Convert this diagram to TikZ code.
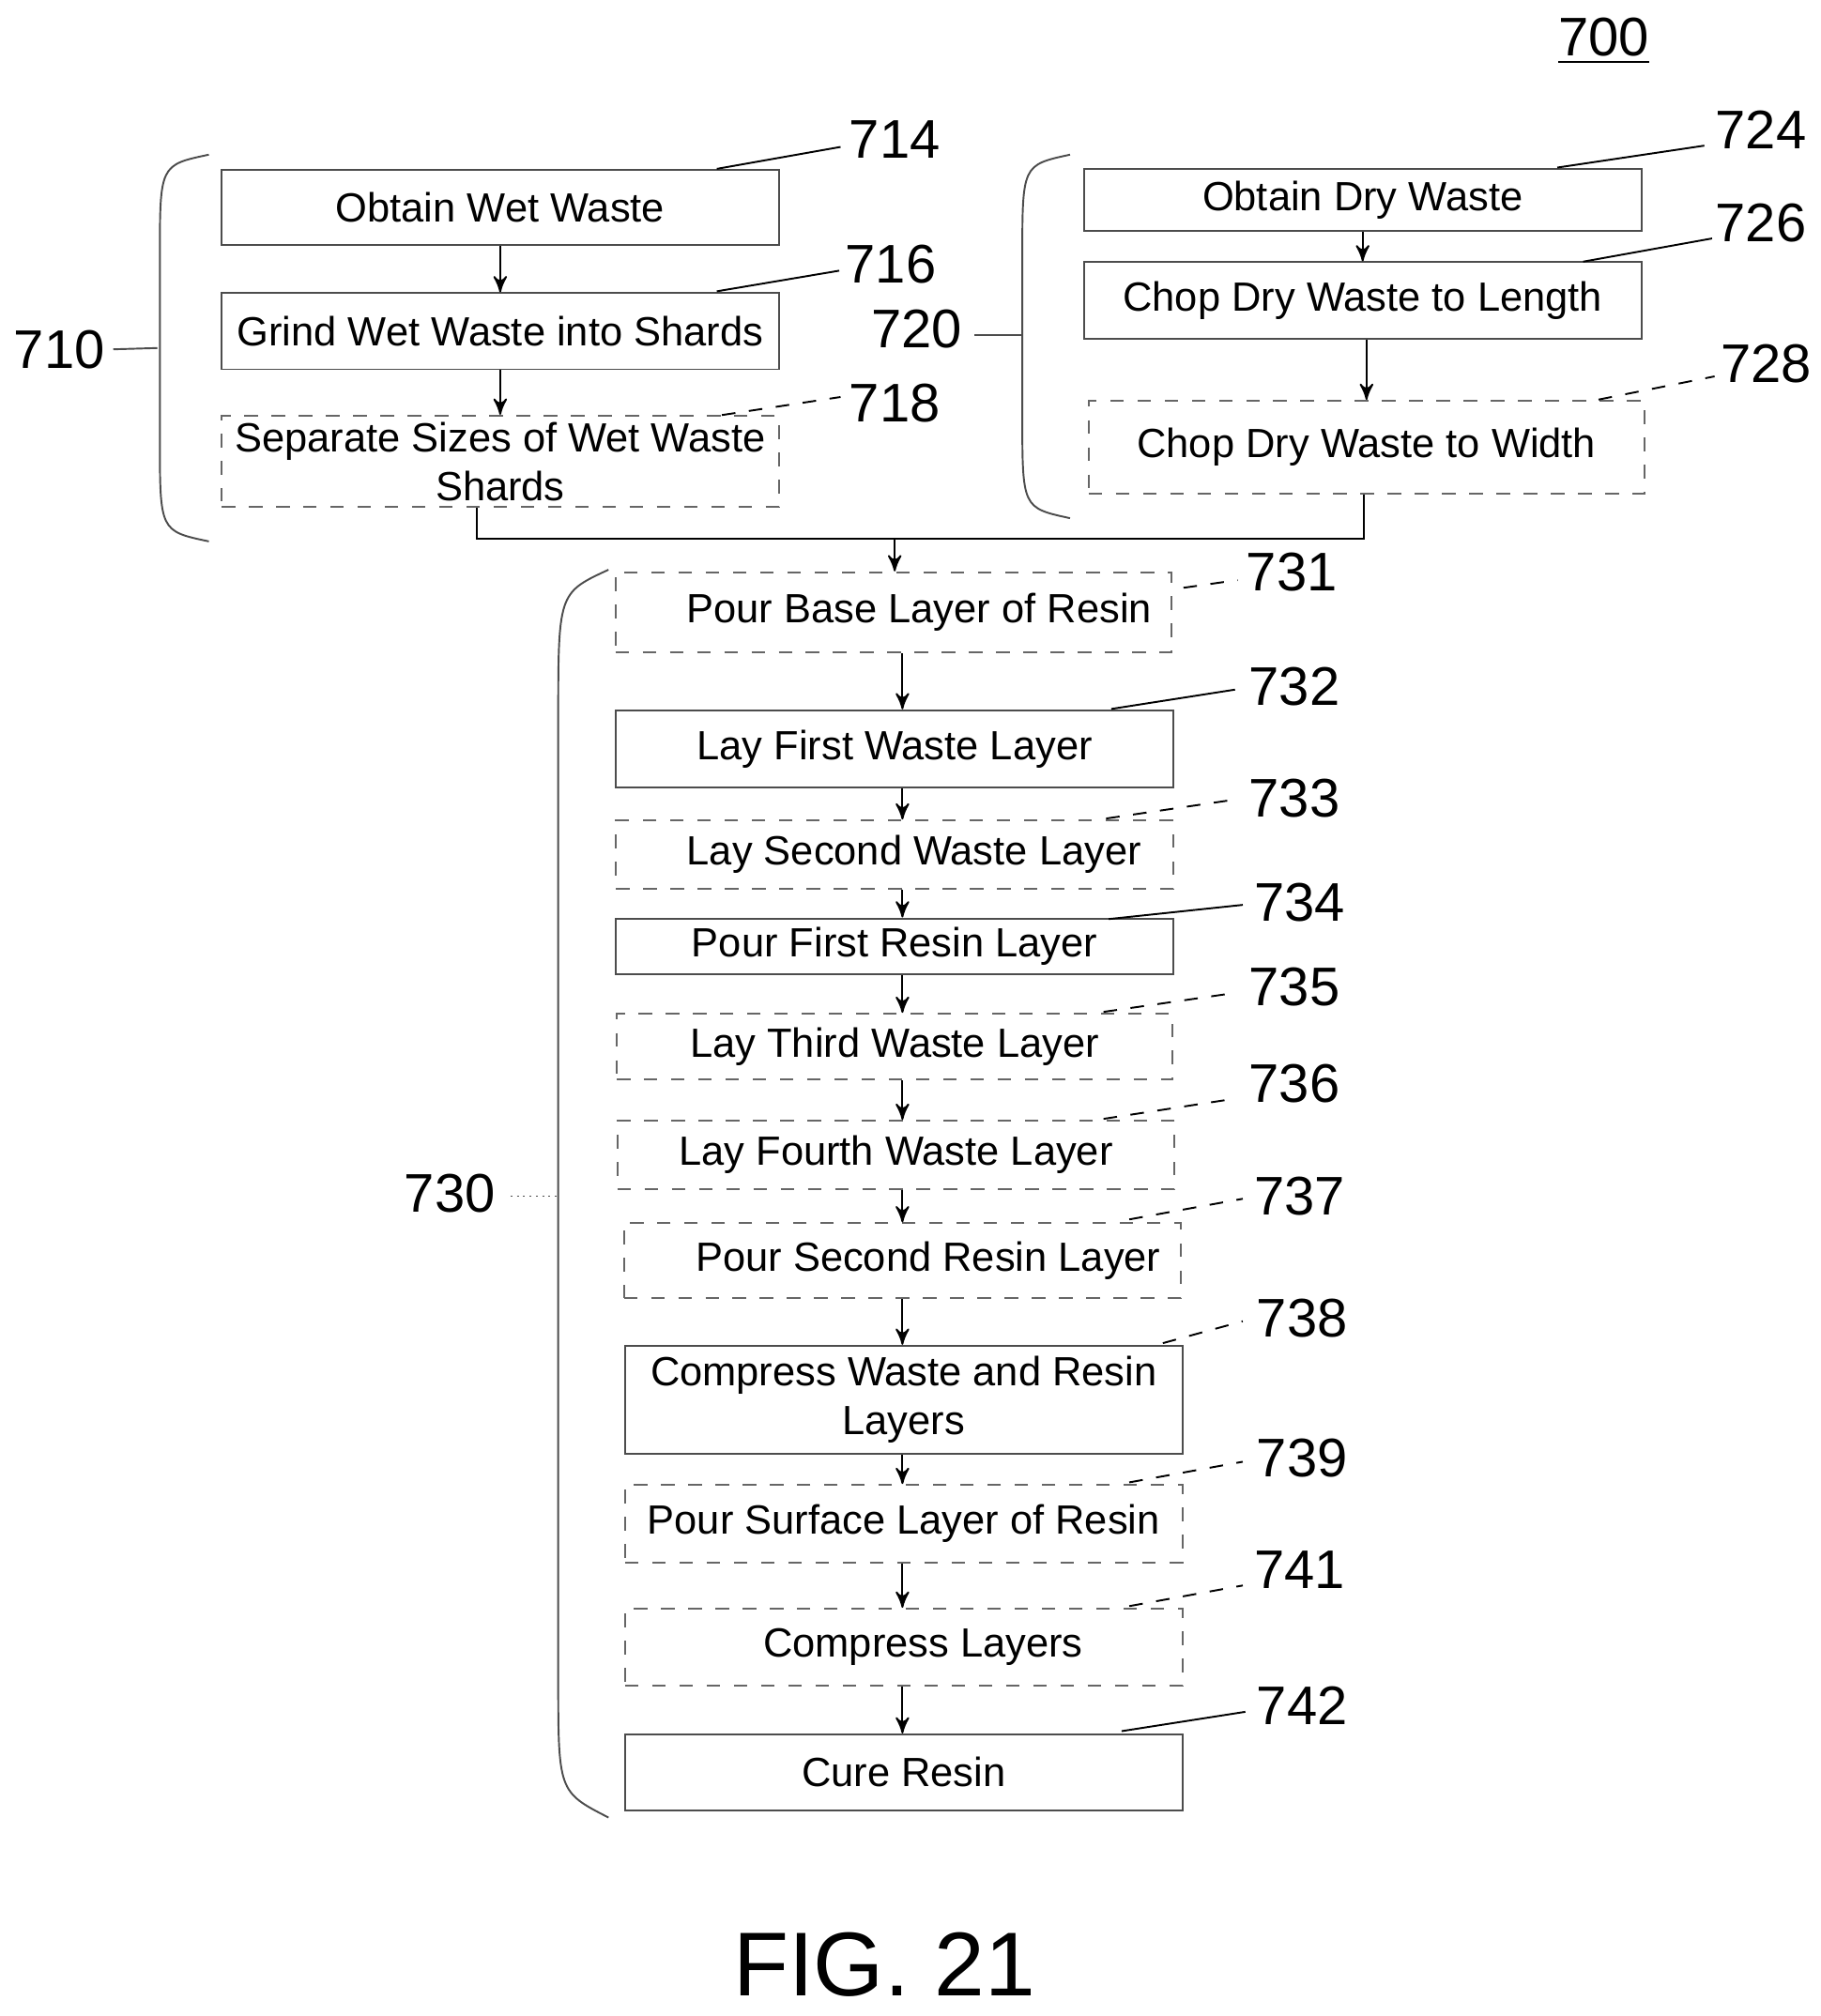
\documentclass[tikz,border=0pt]{standalone}
\usepackage{fontspec}
\setmainfont{Liberation Sans}
\usetikzlibrary{arrows}
\tikzset{
  stp/.style = {draw=black!70, thin, rectangle, align=center, inner sep=1pt,
    font=\fontsize{9}{10.8}\selectfont},% solid step
  stp_d/.style = {stp, dashed, draw=black!60},% optional step
  num/.style = {font=\fontsize{12}{14}\selectfont, inner sep=0pt},% reference number
  lead/.style = {thin},
  lead_d/.style = {thin, dashed},
  brace/.style = {thin, black!70}
}
\begin{document}
\begin{tikzpicture}[x=0.01cm,y=-0.01cm,>=stealth']
\useasboundingbox (0,0) rectangle (1412,1564);
% wet waste branch
\node [stp, minimum width=4.32cm, minimum height=0.58cm] (b714) at (388,161) {Obtain Wet Waste};
\node [stp, minimum width=4.32cm, minimum height=0.59cm] (b716) at (388,257) {Grind Wet Waste into Shards};
\node [stp_d, minimum width=4.32cm, minimum height=0.71cm] (b718) at (388,358) {Separate Sizes of Wet Waste\\Shards};
% dry waste branch
\node [stp, minimum width=4.32cm, minimum height=0.48cm] (b724) at (1057,155) {Obtain Dry Waste};
\node [stp, minimum width=4.32cm, minimum height=0.59cm] (b726) at (1057,233) {Chop Dry Waste to Length};
\node [stp_d, minimum width=4.31cm, minimum height=0.72cm] (b728) at (1060,347) {Chop Dry Waste to Width};
% layering
\node [stp_d, minimum width=4.31cm, minimum height=0.62cm] (b731) at (693,475) {\hspace*{0.4cm}Pour Base Layer of Resin};
\node [stp, minimum width=4.32cm, minimum height=0.60cm] (b732) at (694,581) {Lay First Waste Layer};
\node [stp_d, minimum width=4.32cm, minimum height=0.53cm] (b733) at (694,663) {\hspace*{0.3cm}Lay Second Waste Layer};
\node [stp, minimum width=4.32cm, minimum height=0.43cm] (b734) at (694,734) {Pour First Resin Layer};
\node [stp_d, minimum width=4.31cm, minimum height=0.51cm] (b735) at (694,812) {Lay Third Waste Layer};
\node [stp_d, minimum width=4.32cm, minimum height=0.53cm] (b736) at (695,896) {Lay Fourth Waste Layer};
\node [stp_d, minimum width=4.32cm, minimum height=0.58cm] (b737) at (700,978) {\hspace*{0.4cm}Pour Second Resin Layer};
\node [stp, minimum width=4.32cm, minimum height=0.84cm] (b738) at (701,1086) {Compress Waste and Resin\\Layers};
\node [stp_d, minimum width=4.32cm, minimum height=0.60cm] (b739) at (701,1182) {Pour Surface Layer of Resin};
\node [stp_d, minimum width=4.32cm, minimum height=0.60cm] (b741) at (701,1278) {\hspace*{0.3cm}Compress Layers};
\node [stp, minimum width=4.32cm, minimum height=0.59cm] (b742) at (701,1375) {Cure Resin};
% flow arrows
\draw [->] (b714.south) -- (b714.south |- b716.north);
\draw [->] (b716.south) -- (b716.south |- b718.north);
\draw [->] (b724.south) -- (b724.south |- b726.north);
\draw [->] ([xshift=0.03cm]b726.south) -- ([xshift=0.03cm]b726.south |- b728.north);
\coordinate (join) at (694,418);
\draw ([xshift=-0.18cm]b718.south) |- (join) -| ([xshift=-0.02cm]b728.south);
\draw [->] (join) -- (join |- b731.north);
\foreach \a/\b in {731/732,732/733,733/734,734/735,735/736,736/737,737/738,738/739,739/741,741/742}
  \draw [->] ([xshift=0.06cm]b\a.south -| b732) -- ([xshift=0.06cm]b\b.north -| b732);
% reference numbers
\node [num] at (1244,32) {\underline{700}};
\foreach \n/\x/\y/\s/\e/\t in {
  714/694/108/{556,131}/{652,114}/lead,
  716/691/205/{556,226}/{651,210}/lead,
  718/694/313/{560,322}/{652,308}/lead_d,
  724/1366/101/{1208,130}/{1322,113}/lead,
  726/1366/173/{1228,203}/{1328,185}/lead,
  728/1370/282/{1240,310}/{1330,292}/lead_d,
  731/1002/444/{918,456}/{960,450}/lead_d,
  732/1004/533/{862,550}/{958,535}/lead,
  733/1004/619/{858,635}/{960,620}/lead_d,
  734/1008/700/{860,713}/{964,702}/lead,
  735/1004/766/{856,785}/{960,770}/lead_d,
  736/1004/841/{856,868}/{960,852}/lead_d,
  737/1008/928/{876,946}/{964,930}/lead_d,
  738/1010/1023/{902,1042}/{964,1025}/lead_d,
  739/1010/1131/{876,1150}/{964,1134}/lead_d,
  741/1008/1218/{876,1246}/{964,1230}/lead_d,
  742/1010/1323/{870,1343}/{966,1328}/lead}{
  \node [num] (n\n) at (\x,\y) {\n};
  \draw [\t] (\s) -- (\e);
}
% braces
\node [num] (n710) at (46,271) {710};
\draw [brace] (n710.east) ++(0.06cm,0) -- (122,270);
\draw [brace] (162,120) .. controls (124,128) .. (124,200) -- (124,340) .. controls (124,412) .. (162,420);
\node [num] (n720) at (711,255) {720};
\draw [brace] (756,260) -- (792,260);
\draw [brace] (830,120) .. controls (793,128) .. (793,200) -- (793,322) .. controls (793,394) .. (830,402);
\node [num] (n730) at (349,926) {730};
\draw [brace, densely dotted] (396,928) -- (432,928);
\draw [brace] (472,442) .. controls (433,460) .. (433,560) -- (433,1300) .. controls (433,1390) .. (472,1410);
\node [font=\fontsize{20}{22}\selectfont] (fig) at (686,1524) {FIG. 21};
\end{tikzpicture}
\end{document}
